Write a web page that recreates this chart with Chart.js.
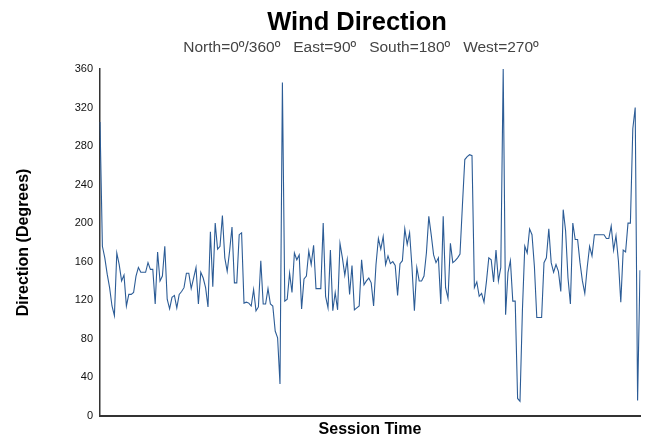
<!DOCTYPE html>
<html>
<head>
<meta charset="utf-8">
<script src="https://cdn.jsdelivr.net/npm/chart.js@4"></script>
<style>
  html, body { margin: 0; padding: 0; background: #fff; }
  #wrap { width: 650px; height: 441px; }
</style>
</head>
<body>
<div id="wrap"><canvas id="chart"></canvas></div>
<script>
/* wind direction readings, one per session sample */
const DIRECTION = [
  305,176,164,147,133,114,104,169,157,140,146,114,126,126,128,145,154,149,149,149,
  159,152,152,116,170,140,145,176,121,111,123,125,112,126,129,133,148,
  148,132,143,154,116,149,143,133,113,191,134,200,173,176,208,164,150,171,196,138,
  138,188,190,117,118,117,114,131,109,113,161,116,116,132,116,114,88,81,
  33,346,119,121,148,128,169,162,167,111,142,145,171,157,177,132,132,132,200,124,
  112,172,109,128,110,179,164,146,162,126,156,110,112,114,162,136,140,143,
  138,114,157,184,173,186,157,166,158,160,156,125,158,161,194,178,190,154,109,154,
  140,140,145,169,207,188,167,159,164,116,207,133,122,179,159,161,164,168,
  218,266,269,271,270,133,139,124,127,118,139,164,162,139,172,140,154,360,105,149,
  161,119,119,18,15,109,176,169,194,188,155,102,102,102,159,164,194,
  159,149,157,150,129,214,192,143,116,200,183,183,159,140,127,154,176,166,188,188,
  188,188,188,184,184,197,172,187,161,118,172,170,200,200,298,320,16,151
];
const SESSIONS = DIRECTION.map((_, i) => i + 1);
const Y_TICKS = [0, 40, 80, 120, 160, 200, 240, 280, 320, 360];

const TITLE = "Wind Direction";
const SUBTITLE = "North=0º/360º   East=90º   South=180º   West=270º";

/* ── Title drawn over the plot centre ─────────────────── */
const headerPlugin = {
  id: "header",
  afterDraw(chart) {
    const { ctx, chartArea } = chart;
    const cx = (chartArea.left + chartArea.right) / 2 - 9;
    ctx.save();
    ctx.textAlign = "center";
    ctx.textBaseline = "middle";
    ctx.fillStyle = "#000";
    ctx.font = "bold 25.5px 'Liberation Sans', Arial, sans-serif";
    ctx.fillText(TITLE, cx - 4, 23);
    ctx.fillStyle = "#444";
    ctx.font = "15.5px 'Liberation Sans', Arial, sans-serif";
    ctx.fillText(SUBTITLE, cx, 48);
    ctx.restore();
  },
};

new Chart(document.getElementById("chart").getContext("2d"), {
  type: "line",
  data: {
    labels: SESSIONS,
    datasets: [{
      data: DIRECTION,
      borderColor: "#2c5c96",
      borderWidth: 1.1,
      pointRadius: 0,
      tension: 0,
      fill: false,
    }],
  },
  options: {
    responsive: true,
    maintainAspectRatio: false,
    animation: false,
    layout: { padding: { top: 69, right: 10, bottom: 0, left: 14 } },
    plugins: {
      legend: { display: false },
      tooltip: { enabled: false },
    },
    scales: {
      x: {
        offset: false,
        grid: { display: false, drawTicks: false },
        border: { display: true, color: "#333", width: 2 },
        ticks: { display: false },
        title: {
          display: true,
          text: "Session Time",
          color: "#000",
          font: { family: "'Liberation Sans', Arial, sans-serif", size: 16, weight: "bold" },
          padding: { top: 4, bottom: 2 },
        },
      },
      y: {
        min: 0,
        max: 360,
        afterBuildTicks: (s) => { s.ticks = Y_TICKS.map((v) => ({ value: v })); },
        afterFit: (s) => { s.width = 86; },
        grid: { display: false, drawTicks: false },
        border: { display: true, color: "#333", width: 1.5 },
        ticks: {
          color: "#111",
          padding: 7,
          font: { family: "'Liberation Sans', Arial, sans-serif", size: 11 },
        },
        title: {
          display: true,
          text: "Direction (Degrees)",
          color: "#000",
          font: { family: "'Liberation Sans', Arial, sans-serif", size: 16, weight: "bold" },
          padding: { top: 0, bottom: 4 },
        },
      },
    },
  },
  plugins: [headerPlugin],
});
</script>
</body>
</html>
